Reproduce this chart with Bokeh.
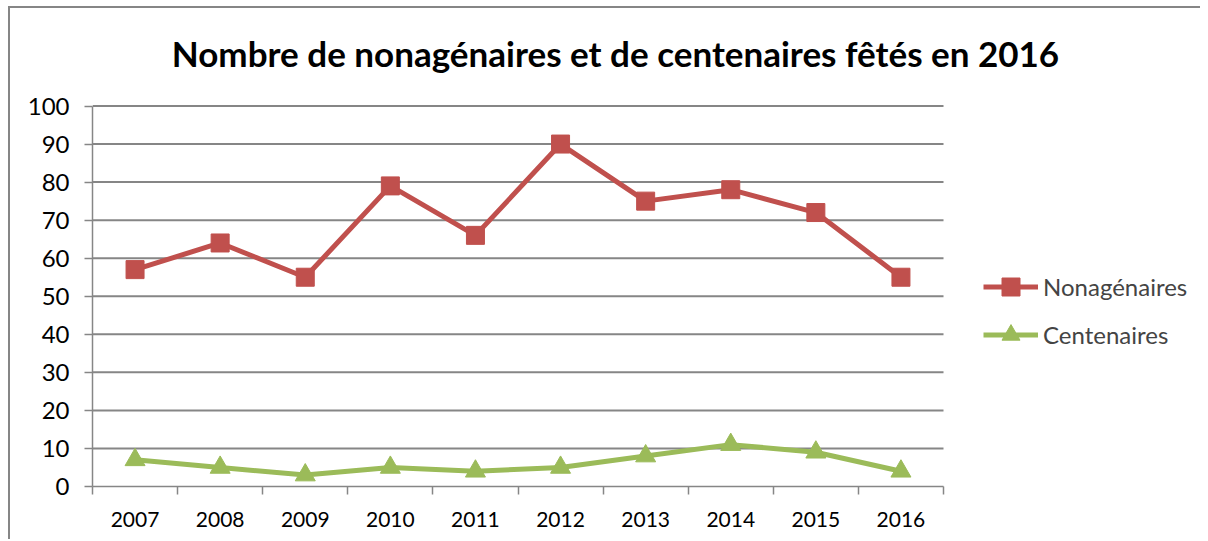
from bokeh.plotting import figure
from bokeh.layouts import column
from bokeh.models import Range1d, FixedTicker, Legend, LegendItem, Label, ColumnDataSource
from bokeh.embed import file_html
from bokeh.resources import INLINE

years = ["2007", "2008", "2009", "2010", "2011", "2012", "2013", "2014", "2015", "2016"]
nonagenaires = [57, 64, 55, 79, 66, 90, 75, 78, 72, 55]
centenaires = [7, 5, 3, 5, 4, 5, 8, 11, 9, 4]
y_ticks = [0, 10, 20, 30, 40, 50, 60, 70, 80, 90, 100]
title_text = "Nombre de nonagénaires et de centenaires fêtés en 2016"

RED = "#C0504D"
GREEN = "#9BBB59"
GRID = "#868686"
FONT = "Lato"

# layout (pixels)
W, H = 1190, 531
LEFT = 82
FRAME_BOTTOM = 478              # canvas y of the value 0
BOTTOM = H - FRAME_BOTTOM
FRAME_W, FRAME_H = W - LEFT, FRAME_BOTTOM
PLOT_W, PLOT_H = 851.0, 380.5   # size of the data area inside the frame

n = len(years)
ymax = max(y_ticks)
x_end = n * FRAME_W / PLOT_W
y_end = ymax * FRAME_H / PLOT_H

xs = [i + 0.5 for i in range(n)]
src = ColumnDataSource(dict(x=xs, non=nonagenaires, cen=centenaires))

p = figure(width=W, height=H, output_backend="svg", toolbar_location=None,
           x_range=Range1d(0, x_end), y_range=Range1d(0, y_end),
           min_border_left=LEFT, min_border_right=0, min_border_top=0, min_border_bottom=BOTTOM)
p.outline_line_color = None
p.background_fill_color = "white"
p.border_fill_color = "white"
p.xgrid.visible = False
p.ygrid.visible = False

# gridlines restricted to the data area
grid_y = [t for t in y_ticks if t > 0]
p.segment(x0=[0] * len(grid_y), x1=[n] * len(grid_y), y0=grid_y, y1=grid_y,
          line_color=GRID, line_width=2)

# x axis
p.xaxis.bounds = (0, n)
p.xaxis.ticker = FixedTicker(ticks=xs, minor_ticks=list(range(n + 1)))
p.xaxis.major_label_overrides = {x: y for x, y in zip(xs, years)}
p.xaxis.major_tick_out = 0
p.xaxis.major_tick_in = 0
p.xaxis.minor_tick_out = 8
p.xaxis.minor_tick_in = 0
p.xaxis.minor_tick_line_color = GRID
p.xaxis.minor_tick_line_width = 1.5
p.xaxis.axis_line_color = GRID
p.xaxis.axis_line_width = 1.5
p.xaxis.major_label_text_font = FONT
p.xaxis.major_label_text_font_size = "21px"
p.xaxis.major_label_text_color = "black"
p.xaxis.major_label_standoff = 17

# y axis
p.yaxis.bounds = (0, ymax)
p.yaxis.ticker = FixedTicker(ticks=y_ticks)
p.yaxis.major_tick_out = 8
p.yaxis.major_tick_in = 0
p.yaxis.minor_tick_line_color = None
p.yaxis.major_tick_line_color = GRID
p.yaxis.major_tick_line_width = 1.5
p.yaxis.axis_line_color = GRID
p.yaxis.axis_line_width = 1.5
p.yaxis.major_label_text_font = FONT
p.yaxis.major_label_text_font_size = "24px"
p.yaxis.major_label_text_color = "black"
p.yaxis.major_label_standoff = 15

# series
l1 = p.line("x", "non", source=src, line_color=RED, line_width=5)
s1 = p.scatter("x", "non", source=src, marker="square", size=18, fill_color=RED, line_color=RED)
l2 = p.line("x", "cen", source=src, line_color=GREEN, line_width=5)
s2 = p.scatter("x", "cen", source=src, marker="triangle", size=20, fill_color=GREEN, line_color=GREEN)

legend = Legend(items=[LegendItem(label="Nonagénaires", renderers=[l1, s1]),
                       LegendItem(label="Centenaires", renderers=[l2, s2])],
                location=(891, 129), orientation="vertical",
                glyph_width=55, glyph_height=45, label_height=45, spacing=3,
                padding=0, margin=0, label_standoff=5,
                label_text_font=FONT, label_text_font_size="24px",
                label_text_baseline="middle",
                border_line_color=None, background_fill_alpha=0)
p.add_layout(legend, "center")

title = Label(x=523, y=434, x_units="screen", y_units="screen", text=title_text,
              text_font=FONT, text_font_style="bold", text_font_size="35px",
              text_align="center", text_baseline="middle", text_color="black")
p.add_layout(title)

layout = column(p, styles={"margin-left": "8px", "margin-top": "6px",
                           "border-left": "2px solid #868686",
                           "border-top": "2px solid #868686"})

open("out.html", "w").write(file_html(layout, INLINE))
